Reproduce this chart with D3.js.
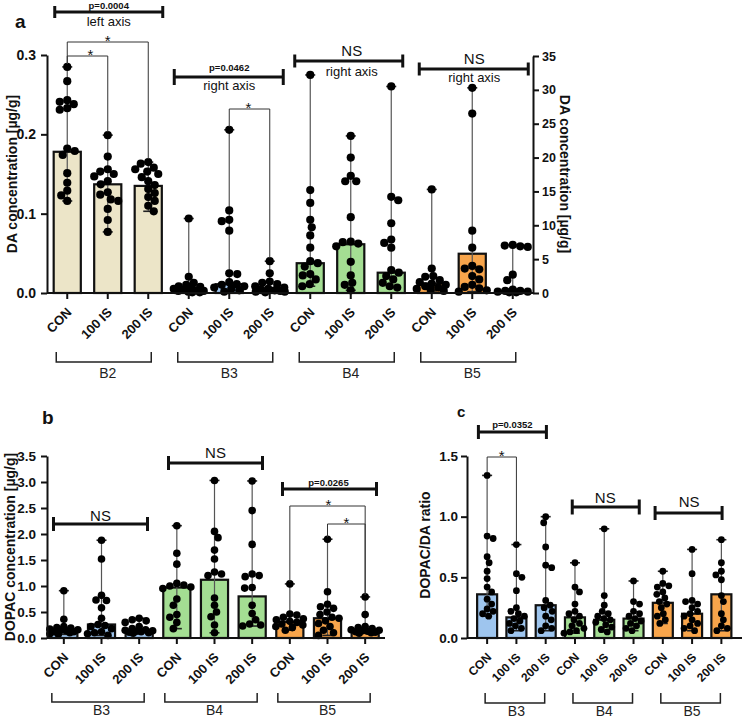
<!DOCTYPE html>
<html><head><meta charset="utf-8">
<script src="https://cdn.jsdelivr.net/npm/d3@7"></script>
<style>
body{margin:0;background:#fff}
svg{display:block}
text{font-family:"Liberation Sans",Arial,Helvetica,sans-serif}
</style>
</head><body>
<svg id="chart" width="743" height="719"></svg>
<script>
// ---------------- DATA ----------------
const treatments = ["CON", "100 IS", "200 IS"];
const groupsA = ["B2", "B3", "B4", "B5"];
const groupsBC = ["B3", "B4", "B5"];
const groupColors = {B2: "#ece5c8", B3: "#9ec5ee", B4: "#a4de93", B5: "#f8a54b"};

// Panel a: DA concentration (B2 on left axis, B3-B5 on right axis)
const aAxisSide = ["left","left","left","right","right","right","right","right","right","right","right","right"];
const aLeftTicks = [0, 0.1, 0.2, 0.3];
const aRightTicks = [0, 5, 10, 15, 20, 25, 30, 35];
const aMedians = [0.178, 0.137, 0.135, 0.5, 1.3, 0.4, 4.4, 7.2, 3.0, 1.4, 5.8, 0.3];
const aPoints = [
  [0.285,0.267,0.243,0.241,0.238,0.233,0.231,0.182,0.179,0.174,0.151,0.139,0.129,0.123,0.116],
  [0.199,0.172,0.156,0.153,0.150,0.147,0.141,0.137,0.127,0.124,0.118,0.116,0.106,0.092,0.077],
  [0.165,0.163,0.158,0.156,0.153,0.150,0.146,0.141,0.136,0.131,0.126,0.121,0.116,0.110,0.103],
  [11.0,2.4,1.5,1.2,1.0,0.9,0.8,0.6,0.5,0.4,0.3,0.3,0.2,0.1,0.1],
  [24.1,12.2,10.8,10.6,9.2,2.9,2.8,1.6,1.3,1.2,1.0,0.8,0.6,0.4,0.2],
  [4.7,2.9,1.7,1.5,1.3,1.0,0.8,0.6,0.5,0.4,0.3,0.2,0.2,0.1],
  [32.2,15.2,13.3,10.8,9.7,8.5,6.7,4.7,4.4,3.9,2.8,2.6,2.0,1.3,1.0],
  [23.2,20.0,17.3,16.5,16.5,11.2,7.6,7.5,7.3,6.9,4.6,2.6,1.5,1.2,0.4],
  [30.5,14.2,13.7,10.3,7.9,7.4,6.7,3.4,3.0,2.5,2.0,1.5,1.0,0.8],
  [15.3,3.6,2.5,2.4,1.9,1.6,1.4,1.2,1.0,0.8,0.6,0.5,0.3],
  [30.3,26.5,9.2,6.7,4.0,3.6,3.5,2.5,2.0,1.2,0.9,0.7,0.4,0.2],
  [7.1,7.0,6.9,6.8,2.7,1.9,0.5,0.3,0.3,0.2,0.2,0.1,0.1]
];

// Panel b: DOPAC concentration
const bTicks = [0, 0.5, 1.0, 1.5, 2.0, 2.5, 3.0, 3.5];
const bMedians = [0.16, 0.26, 0.16, 0.97, 1.12, 0.80, 0.31, 0.38, 0.15];
const bPoints = [
  [0.91,0.36,0.22,0.20,0.19,0.17,0.16,0.15,0.14,0.12,0.12,0.10,0.08,0.07],
  [1.88,1.52,0.82,0.73,0.72,0.58,0.38,0.26,0.24,0.22,0.18,0.12,0.10,0.08,0.05],
  [0.38,0.35,0.33,0.30,0.22,0.18,0.16,0.15,0.14,0.13,0.12,0.11,0.10,0.09],
  [2.16,1.63,1.42,1.05,1.02,1.00,0.98,0.95,0.75,0.63,0.45,0.40,0.30,0.18],
  [3.03,2.05,1.93,1.69,1.52,1.27,1.23,1.20,0.77,0.63,0.50,0.41,0.25,0.10],
  [3.02,2.45,1.80,1.23,1.20,1.18,0.97,0.96,0.63,0.47,0.35,0.27,0.25,0.23],
  [1.04,0.46,0.44,0.40,0.37,0.35,0.32,0.30,0.27,0.25,0.22,0.20,0.15],
  [1.90,0.89,0.65,0.60,0.57,0.50,0.45,0.40,0.38,0.33,0.28,0.22,0.15,0.10,0.05],
  [0.79,0.45,0.22,0.20,0.18,0.16,0.15,0.14,0.13,0.12,0.11,0.10,0.09]
];

// Panel c: DOPAC/DA ratio
const cTicks = [0, 0.5, 1.0, 1.5];
const cMedians = [0.36, 0.17, 0.27, 0.17, 0.15, 0.16, 0.29, 0.20, 0.36];
const cPoints = [
  [1.34,0.84,0.82,0.67,0.62,0.55,0.49,0.42,0.38,0.32,0.28,0.24,0.22,0.20,0.18],
  [0.77,0.53,0.50,0.39,0.25,0.22,0.20,0.18,0.16,0.14,0.12,0.10,0.08,0.06],
  [1.00,0.95,0.75,0.60,0.58,0.31,0.27,0.25,0.22,0.18,0.15,0.10,0.08,0.06],
  [0.62,0.42,0.38,0.28,0.22,0.20,0.18,0.15,0.12,0.10,0.08,0.06,0.05,0.04],
  [0.90,0.35,0.27,0.22,0.20,0.18,0.16,0.15,0.13,0.11,0.09,0.07,0.05],
  [0.47,0.30,0.28,0.22,0.20,0.18,0.16,0.14,0.12,0.10,0.08,0.06],
  [0.55,0.45,0.43,0.42,0.38,0.36,0.33,0.30,0.28,0.25,0.20,0.18,0.15,0.12],
  [0.73,0.53,0.31,0.30,0.28,0.25,0.22,0.20,0.18,0.15,0.12,0.10,0.08,0.06],
  [0.81,0.62,0.55,0.52,0.48,0.35,0.30,0.20,0.15,0.10,0.08,0.06]
];

// ---------------- HELPERS ----------------
const svg = d3.select("#chart");

function swarm(ys, r, maxOff) {
  const idx = d3.range(ys.length).sort((a, b) => ys[a] - ys[b]);
  const placed = [];
  const xs = new Array(ys.length);
  const minD = 1.85 * r;
  idx.forEach((k, n) => {
    const y = ys[k];
    const sign = n % 2 === 0 ? 1 : -1;
    let best = 0, bestScore = -1;
    outer:
    for (let s = 0; s <= maxOff; s += 0.5) {
      const cands = s === 0 ? [0] : [sign * s, -sign * s];
      for (const o of cands) {
        let md = Infinity;
        for (const p of placed) md = Math.min(md, Math.hypot(p[0] - o, p[1] - y));
        if (md >= minD) { best = o; break outer; }
        if (md > bestScore) { bestScore = md; best = o; }
      }
    }
    placed.push([best, y]);
    xs[k] = best;
  });
  return xs;
}

function drawSeries(g, x, yOf, medians, points, colorOf, r, maxOff) {
  const bw = x.bandwidth();
  medians.forEach((m, i) => {
    const y = yOf(i);
    g.append("rect")
      .attr("x", x(i)).attr("y", y(m))
      .attr("width", bw).attr("height", y(0) - y(m))
      .attr("fill", colorOf(i)).attr("stroke", "#111").attr("stroke-width", 2.2);
  });
  points.forEach((pts, i) => {
    const y = yOf(i);
    const cx = x(i) + bw / 2;
    const [lo, hi] = d3.extent(pts);
    g.append("line").attr("x1", cx).attr("x2", cx).attr("y1", y(lo)).attr("y2", y(hi))
      .attr("stroke", "#555").attr("stroke-width", 1.2);
    [lo, hi].forEach(v => {
      g.append("line").attr("x1", cx - 5).attr("x2", cx + 5).attr("y1", y(v)).attr("y2", y(v))
        .attr("stroke", "#222").attr("stroke-width", 1.6);
    });
    const ys = pts.map(v => y(v));
    const xs = swarm(ys, r, maxOff);
    g.selectAll(null).data(pts).enter().append("circle")
      .attr("cx", (d, k) => cx + xs[k]).attr("cy", (d, k) => ys[k]).attr("r", r)
      .attr("fill", "#000");
  });
}

function styleAxis(sel, fontSize) {
  sel.select(".domain").attr("stroke", "#111").attr("stroke-width", 2);
  sel.selectAll(".tick line").attr("stroke", "#111").attr("stroke-width", 2);
  sel.selectAll(".tick text").attr("fill", "#111").style("font-size", fontSize + "px").style("font-weight", "bold")
    .style("font-family", '"Liberation Sans", Arial, sans-serif');
}

function xAxisBase(g, x, n, x0, x1, y0, labelSize) {
  const bw = x.bandwidth();
  g.append("line").attr("x1", x0).attr("x2", x1).attr("y1", y0).attr("y2", y0)
    .attr("stroke", "#111").attr("stroke-width", 2);
  d3.range(n).forEach(i => {
    const cx = x(i) + bw / 2;
    g.append("line").attr("x1", cx).attr("x2", cx).attr("y1", y0).attr("y2", y0 + 6)
      .attr("stroke", "#111").attr("stroke-width", 2);
    g.append("text").attr("transform", `translate(${cx + 2},${y0 + 17}) rotate(-45)`)
      .attr("text-anchor", "end").attr("dy", "0.35em")
      .style("font-size", labelSize + "px").style("font-weight", "bold").attr("fill", "#111")
      .text(treatments[i % 3]);
  });
}

function groupBrackets(g, x, groups, yTop, yBot, yLabel, offL, offR) {
  const bw = x.bandwidth();
  groups.forEach((name, gi) => {
    const a = x(3 * gi) + bw / 2 + offL, b = x(3 * gi + 2) + bw / 2 + offR;
    g.append("path").attr("d", `M${a},${yTop}V${yBot}H${b}V${yTop}`)
      .attr("fill", "none").attr("stroke", "#222").attr("stroke-width", 1.5);
    g.append("text").attr("x", x(3 * gi + 1) + bw / 2).attr("y", yLabel)
      .attr("text-anchor", "middle").style("font-size", "14px").attr("fill", "#222").text(name);
  });
}

function sigBracket(g, x1, x2, y, cap) {
  g.append("line").attr("x1", x1).attr("x2", x2).attr("y1", y).attr("y2", y)
    .attr("stroke", "#111").attr("stroke-width", 3);
  [x1, x2].forEach(xx => g.append("line").attr("x1", xx).attr("x2", xx)
    .attr("y1", y - cap).attr("y2", y + cap).attr("stroke", "#111").attr("stroke-width", 3));
}

function label(g, x, y, txt, size, weight) {
  g.append("text").attr("x", x).attr("y", y).attr("text-anchor", "middle")
    .style("font-size", size + "px").style("font-weight", weight || "normal").attr("fill", "#111").text(txt);
}

function compLine(g, xa, xb, yTop, yA, yB, starX) {
  g.append("path").attr("d", `M${xa},${yA}V${yTop}H${xb}V${yB}`)
    .attr("fill", "none").attr("stroke", "#333").attr("stroke-width", 1);
  label(g, starX, yTop + 3.5, "*", 15, "normal");
}

function yTitle(g, x, y, rot, txt) {
  g.append("text").attr("transform", `translate(${x},${y}) rotate(${rot})`)
    .attr("text-anchor", "middle").style("font-size", "14px").style("font-weight", "bold")
    .attr("fill", "#111").text(txt);
}

// ---------------- PANEL A ----------------
{
  const g = svg.append("g");
  const x = d3.scaleBand().domain(d3.range(aMedians.length)).range([47, 533]).paddingInner(0.33).paddingOuter(0.165);
  const yL = d3.scaleLinear().domain([0, 0.3]).range([293, 55]);
  const yR = d3.scaleLinear().domain([0, 35]).range([293, 56]);
  const yOf = i => aAxisSide[i] === "left" ? yL : yR;
  const cxOf = i => x(i) + x.bandwidth() / 2;

  drawSeries(g, x, yOf, aMedians, aPoints, i => groupColors[groupsA[Math.floor(i / 3)]], 4.1, 15);

  const la = g.append("g").attr("transform", "translate(47,0)")
    .call(d3.axisLeft(yL).tickValues(aLeftTicks).tickFormat(d3.format(".1f")).tickSize(6).tickSizeOuter(0).tickPadding(5));
  styleAxis(la, 14);
  const ra = g.append("g").attr("transform", "translate(533,0)")
    .call(d3.axisRight(yR).tickValues(aRightTicks).tickFormat(d3.format("d")).tickSize(6).tickSizeOuter(0).tickPadding(3));
  styleAxis(ra, 12.5);
  xAxisBase(g, x, aMedians.length, 47, 533, 293, 13);
  groupBrackets(g, x, groupsA, 352, 362, 378, -11, 3);

  yTitle(g, 17, 174, -90, "DA concentration [µg/g]");
  yTitle(g, 560, 174, 90, "DA concentration [µg/g]");
  g.append("text").attr("x", 15).attr("y", 28).style("font-size", "19px").style("font-weight", "bold").attr("fill", "#111").text("a");

  const mid = gi => cxOf(3 * gi + 1);
  sigBracket(g, mid(0) - 53, mid(0) + 55, 12, 6);
  label(g, mid(0) + 1, 8.5, "p=0.0004", 9.5, "bold");
  label(g, mid(0) + 1, 25.5, "left axis", 13);
  sigBracket(g, mid(1) - 55, mid(1) + 54, 77, 8);
  label(g, mid(1), 70.5, "p=0.0462", 9.5, "bold");
  label(g, mid(1), 89.5, "right axis", 13);
  sigBracket(g, mid(2) - 56, mid(2) + 52, 61, 6.5);
  label(g, mid(2) + 1, 55.5, "NS", 15);
  label(g, mid(2) + 1, 75.5, "right axis", 13);
  sigBracket(g, mid(3) - 53, mid(3) + 56, 69, 6.5);
  label(g, mid(3) + 2, 63.5, "NS", 15);
  label(g, mid(3) + 2, 81.5, "right axis", 13);

  const topOf = i => yOf(i)(d3.max(aPoints[i])) - 3;
  compLine(g, cxOf(0), cxOf(2), 42, topOf(0), topOf(2), cxOf(1));
  compLine(g, cxOf(0), cxOf(1), 56, topOf(0), topOf(1), (cxOf(0) + cxOf(1)) / 2 + 3);
  compLine(g, cxOf(4), cxOf(5), 109, topOf(4), topOf(5), (cxOf(4) + cxOf(5)) / 2 - 1);
}

// ---------------- PANEL B ----------------
{
  const g = svg.append("g");
  const x = d3.scaleBand().domain(d3.range(bMedians.length)).range([45, 384]).paddingInner(0.28).paddingOuter(0.14);
  const y = d3.scaleLinear().domain([0, 3.5]).range([638, 456]);
  const cxOf = i => x(i) + x.bandwidth() / 2;
  drawSeries(g, x, () => y, bMedians, bPoints, i => groupColors[groupsBC[Math.floor(i / 3)]], 3.8, 14);
  const ax = g.append("g").attr("transform", "translate(47,0)")
    .call(d3.axisLeft(y).tickValues(bTicks).tickFormat(d3.format(".1f")).tickSize(6).tickSizeOuter(0).tickPadding(5));
  styleAxis(ax, 13.5);
  xAxisBase(g, x, bMedians.length, 47, 385, 638, 13);
  groupBrackets(g, x, groupsBC, 693, 702, 715, -12, 5);
  yTitle(g, 15, 547, -90, "DOPAC concentration [µg/g]");
  g.append("text").attr("x", 42).attr("y", 424).style("font-size", "19px").style("font-weight", "bold").attr("fill", "#111").text("b");

  const mid = gi => cxOf(3 * gi + 1);
  sigBracket(g, mid(0) - 48, mid(0) + 46, 524, 7);
  label(g, mid(0) - 1, 520.5, "NS", 15);
  sigBracket(g, mid(1) - 46, mid(1) + 48, 463, 7);
  label(g, mid(1) + 1, 457.5, "NS", 15);
  sigBracket(g, mid(2) - 45, mid(2) + 49, 489, 7);
  label(g, mid(2) + 1, 485.5, "p=0.0265", 9.5, "bold");

  const topOf = i => y(d3.max(bPoints[i])) - 2;
  compLine(g, cxOf(6), cxOf(8), 506, topOf(6), topOf(8), cxOf(7) + 1);
  compLine(g, cxOf(7), cxOf(8), 524, topOf(7), topOf(8), (cxOf(7) + cxOf(8)) / 2);
}

// ---------------- PANEL C ----------------
{
  const g = svg.append("g");
  const x = d3.scaleBand().domain(d3.range(cMedians.length)).range([472.5, 736]).paddingInner(0.317).paddingOuter(0.158);
  const y = d3.scaleLinear().domain([0, 1.5]).range([638, 456]);
  const cxOf = i => x(i) + x.bandwidth() / 2;
  drawSeries(g, x, () => y, cMedians, cPoints, i => groupColors[groupsBC[Math.floor(i / 3)]], 3.4, 11);
  const ax = g.append("g").attr("transform", "translate(467,0)")
    .call(d3.axisLeft(y).tickValues(cTicks).tickFormat(d3.format(".1f")).tickSize(6).tickSizeOuter(0).tickPadding(3));
  styleAxis(ax, 13.5);
  xAxisBase(g, x, cMedians.length, 467, 742, 638, 12);
  groupBrackets(g, x, groupsBC, 693, 703, 716, -2, -1);
  yTitle(g, 430, 545, -90, "DOPAC/DA ratio");
  g.append("text").attr("x", 457).attr("y", 417).style("font-size", "15px").style("font-weight", "bold").attr("fill", "#111").text("c");

  const mid = gi => cxOf(3 * gi + 1);
  sigBracket(g, mid(0) - 38, mid(0) + 30, 432, 7);
  label(g, mid(0) - 4, 427.5, "p=0.0352", 9.5, "bold");
  sigBracket(g, mid(1) - 32, mid(1) + 35, 507, 7.5);
  label(g, mid(1) + 1, 502.5, "NS", 15);
  sigBracket(g, mid(2) - 37, mid(2) + 30, 513, 7);
  label(g, mid(2) - 3, 506.5, "NS", 15);

  const topOf = i => y(d3.max(cPoints[i])) - 3;
  compLine(g, cxOf(0), cxOf(1), 457, topOf(0), topOf(1), (cxOf(0) + cxOf(1)) / 2);
}
</script>
</body></html>
